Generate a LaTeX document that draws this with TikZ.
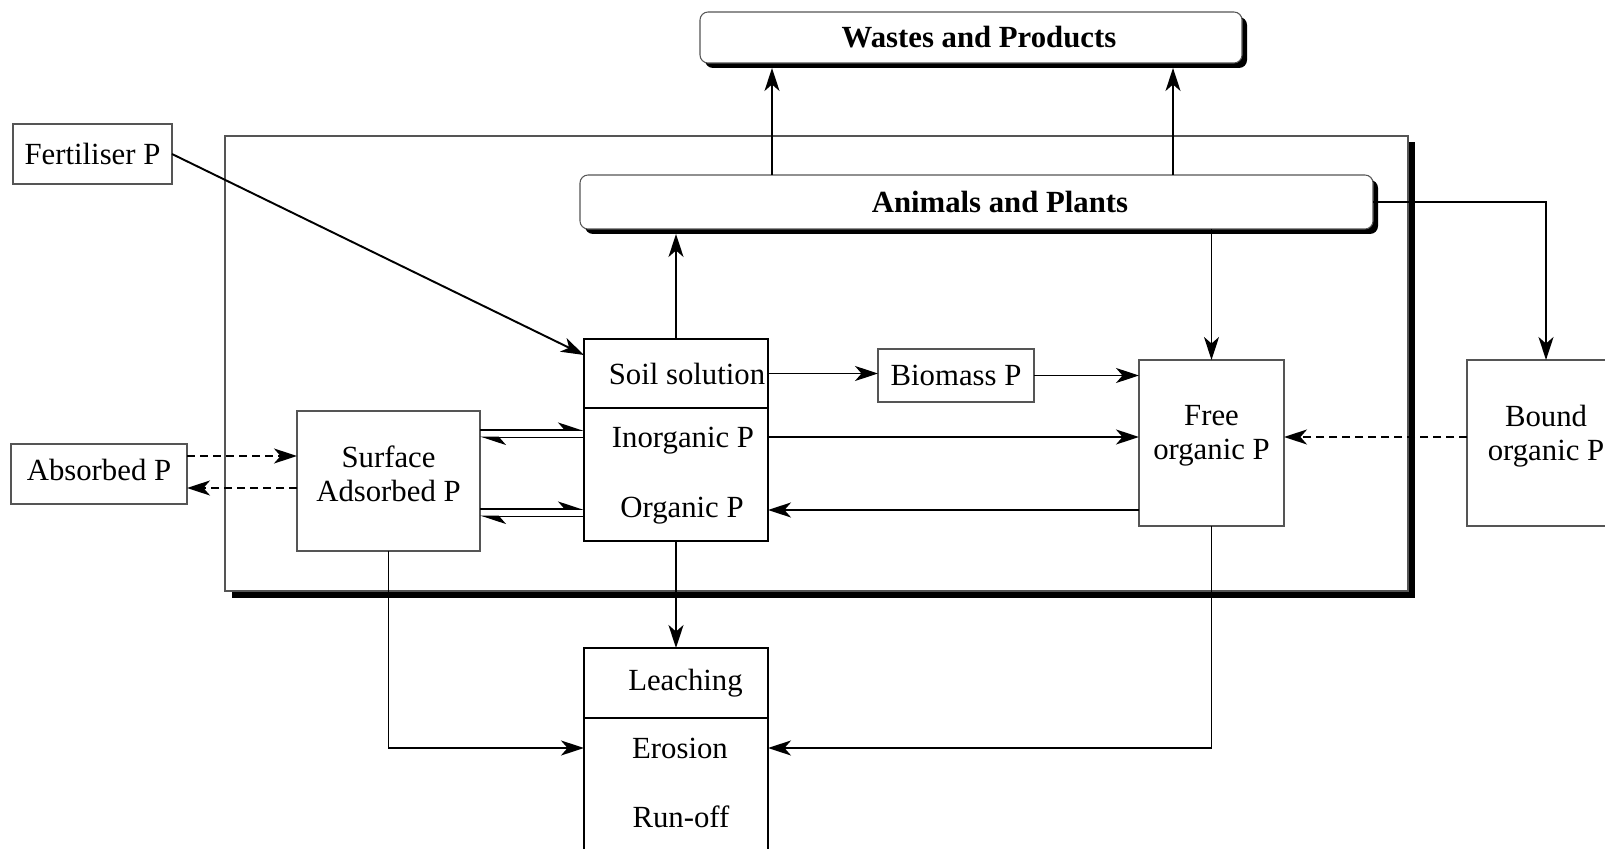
\documentclass[tikz,border=0pt]{standalone}
\usepackage{fontspec}
\setmainfont{Liberation Serif}
\usepackage{tikz}
\usetikzlibrary{arrows.meta,positioning,calc,shadows}
\definecolor{boxgray}{HTML}{555555}

\begin{document}
\begin{tikzpicture}[
    every node/.style={font=\fontsize{17.5}{19.5}\selectfont,
                       align=center, inner sep=0pt, outer sep=0pt},
    box/.style={rectangle, draw=boxgray, line width=0.6pt},
    poolbox/.style={rectangle, draw=black, line width=1pt, minimum width=3.68cm},
    roundbox/.style={rectangle, draw=boxgray, line width=0.6pt,
                     rounded corners=0.16cm, fill=white,
                     font=\fontsize{17.5}{19.5}\selectfont\bfseries,
                     drop shadow={shadow xshift=0.1cm, shadow yshift=-0.1cm,
                                  fill=black, opacity=1}},
    flow/.style={-{Stealth[length=0.46cm,width=0.3cm,inset=0.13cm]}, line width=1.1pt},
    xflow/.style={flow, dash pattern=on 0.16cm off 0.1cm},
    harp/.style={-{Stealth[harpoon,length=0.46cm,width=0.3cm,inset=0.13cm]}, line width=1.1pt},
    inlabel/.style={label={[yshift=0.14cm]center:{#1}}}
]
\useasboundingbox (0,0) rectangle (32.1,-16.98);

% soil system frame
\fill[black] (4.63,-2.85) rectangle (28.29,-11.95);
\draw[boxgray, fill=white, line width=0.6pt] (4.5,-2.72) rectangle (28.16,-11.82);

\node[roundbox, minimum width=10.84cm, minimum height=1.02cm] (wastes) at (19.42,-0.75) {\hspace*{0.32cm}Wastes and Products};
\node[roundbox, minimum width=15.86cm, minimum height=1.08cm] (animals) at (19.53,-4.04) {\hspace*{0.94cm}Animals and Plants};

\node[box, minimum width=3.18cm, minimum height=1.2cm] (fert) at (1.85,-3.08) {Fertiliser P};
\node[box, minimum width=3.52cm, minimum height=1.2cm,
      label={[yshift=0.08cm]center:Absorbed P}] (absorbed) at (1.98,-9.48) {};
\node[box, minimum width=3.66cm, minimum height=2.8cm,
      inlabel={Surface\\Adsorbed P}] (surf) at (7.77,-9.62) {};

\node[poolbox, minimum height=1.38cm] (soilsol) at (13.52,-7.47) {\hspace*{0.44cm}Soil solution};
\node[poolbox, minimum height=2.66cm, below=0pt of soilsol] (pool) {};
\node (inorg) at (13.66,-8.82) {Inorganic P};
\node (org) at (13.64,-10.22) {Organic P};

\node[box, minimum width=3.12cm, minimum height=1.06cm] (biomass) at (19.12,-7.51) {Biomass P};
\node[box, minimum width=2.9cm, minimum height=3.32cm,
      inlabel={Free\\organic P}] (free) at (24.23,-8.86) {};
\node[box, minimum width=3.16cm, minimum height=3.32cm,
      inlabel={Bound\\organic P}] (bound) at (30.92,-8.86) {};

\node[poolbox, minimum height=1.4cm] (leach) at (13.52,-13.66) {\hspace*{0.38cm}Leaching};
\node[poolbox, minimum height=3.3cm, below=0pt of leach] (loss) {};
\node (erosion) at (13.6,-14.96) {Erosion};
\node (runoff) at (13.62,-16.34) {Run-off};

% flows
\coordinate (up1) at ([xshift=3.84cm]animals.north west);
\coordinate (up2) at ([xshift=11.86cm]animals.north west);
\draw[flow] (up1) -- ($(up1 |- wastes.south)+(0,-0.1)$);
\draw[flow] (up2) -- ($(up2 |- wastes.south)+(0,-0.1)$);
\draw[flow] (soilsol.north) -- ($(soilsol.north |- animals.south)+(0,-0.1)$);
\draw[flow] (free.north |- animals.south) -- (free.north);
\draw[flow] (animals.east) -| (bound.north);

\draw[flow] (fert.east) -- ($(soilsol.west)+(0,0.37)$);
\draw[flow] (soilsol.east) -- (soilsol.east -| biomass.west);
\draw[flow] (biomass.east) -- (biomass.east -| free.west);
\draw[flow] ($(inorg -| pool.east)+(0,0.08)$) -- ($(inorg -| free.west)+(0,0.08)$);
\draw[flow] ($(org -| free.west)+(0,0.02)$) -- ($(org -| pool.east)+(0,0.02)$);
\draw[xflow] ([yshift=0.12cm]bound.west) -- ([yshift=0.12cm]free.east);

\coordinate (ip) at (8.36,-8.6);
\coordinate (op) at (8.36,-10.18);
\draw[harp] (ip -| surf.east) -- (ip -| pool.west);
\draw[harp] ($(ip -| pool.west)+(0,-0.15)$) -- ($(ip -| surf.east)+(0,-0.15)$);
\draw[harp] (op -| surf.east) -- (op -| pool.west);
\draw[harp] ($(op -| pool.west)+(0,-0.15)$) -- ($(op -| surf.east)+(0,-0.15)$);

\coordinate (dashin) at (4.0,-9.12);
\coordinate (dashout) at ($(surf.west)+(0,-0.14)$);
\draw[xflow] (dashin -| absorbed.east) -- (dashin -| surf.west);
\draw[xflow] (dashout) -- (dashout -| absorbed.east);

\draw[flow] (pool.south) -- (leach.north);
\draw[flow] (surf.south) |- (erosion -| loss.west);
\draw[flow] (free.south) |- (erosion -| loss.east);
\end{tikzpicture}
\end{document}
